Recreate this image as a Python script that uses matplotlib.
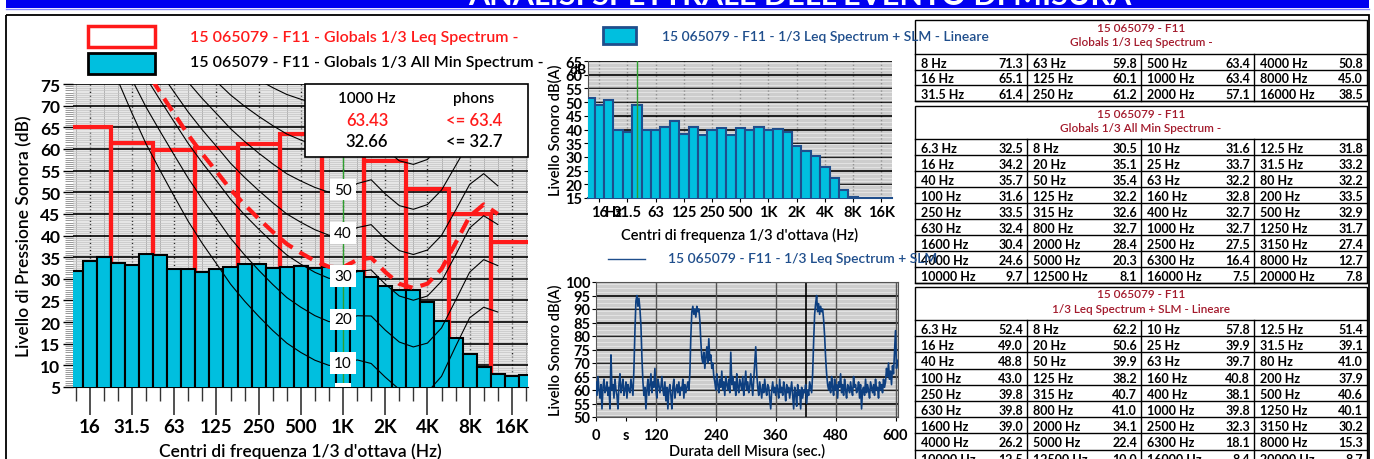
import numpy as np
import matplotlib
matplotlib.use('Agg')
import matplotlib.pyplot as plt
from matplotlib.patches import Rectangle
from matplotlib.ticker import MultipleLocator, FixedLocator

plt.rcParams['font.family'] = ['Lato', 'DejaVu Sans']

# ---------------- data ----------------
band_labels = ['6.3', '8', '10', '12.5', '16', '20', '25', '31.5', '40', '50', '63', '80',
               '100', '125', '160', '200', '250', '315', '400', '500', '630', '800', '1000',
               '1250', '1600', '2000', '2500', '3150', '4000', '5000', '6300', '8000',
               '10000', '12500', '16000', '20000']
min_spectrum = [32.5, 30.5, 31.6, 31.8, 34.2, 35.1, 33.7, 33.2, 35.7, 35.4, 32.2, 32.2,
                31.6, 32.2, 32.8, 33.5, 33.5, 32.6, 32.7, 32.9, 32.4, 32.7, 32.7, 31.7,
                30.4, 28.4, 27.5, 27.4, 24.6, 20.3, 16.4, 12.7, 9.7, 8.1, 7.5, 7.8]
leq_linear = [52.4, 62.2, 57.8, 51.4, 49.0, 50.6, 39.9, 39.1, 48.8, 39.9, 39.7, 41.0,
              43.0, 38.2, 40.8, 37.9, 39.8, 40.7, 38.1, 40.6, 39.8, 41.0, 39.8, 40.1,
              39.0, 34.1, 32.3, 30.2, 26.2, 22.4, 18.1, 15.3, 12.5, 10.0, 8.4, 8.7]
oct_labels = ['8', '16', '31.5', '63', '125', '250', '500', '1000', '2000', '4000', '8000', '16000']
leq_octave = [71.3, 65.1, 61.4, 59.8, 60.1, 61.2, 63.4, 63.4, 57.1, 50.8, 45.0, 38.5]

tick_bands = ['16', '31.5', '63', '125', '250', '500', '1000', '2000', '4000', '8000', '16000']
tick_labels = ['16', '31.5', '63', '125', '250', '500', '1K', '2K', '4K', '8K', '16K']

phon_1k_leq = 63.43
phon_1k_min = 32.66
phon_curves = [10, 20, 30, 40, 50, 60, 70, 80, 90, 100]
phon_labels = [0, 10, 20, 30, 40, 50]

# ISO 226:2003 equal-loudness parameters (20 Hz .. 12.5 kHz)
iso_af = [0.532, 0.506, 0.480, 0.455, 0.432, 0.409, 0.387, 0.367, 0.349, 0.330, 0.315,
          0.301, 0.288, 0.276, 0.267, 0.259, 0.253, 0.250, 0.246, 0.244, 0.243, 0.243,
          0.243, 0.242, 0.242, 0.245, 0.254, 0.271, 0.301]
iso_Lu = [-31.6, -27.2, -23.0, -19.1, -15.9, -13.0, -10.3, -8.1, -6.2, -4.5, -3.1, -2.0,
          -1.1, -0.4, 0.0, 0.3, 0.5, 0.0, -2.7, -4.1, -1.0, 1.7, 2.5, 1.2, -2.1, -7.1,
          -11.2, -10.7, -3.1]
iso_Tf = [78.5, 68.7, 59.5, 51.1, 44.0, 37.5, 31.5, 26.5, 22.1, 17.9, 14.4, 11.4, 8.6,
          6.2, 4.4, 3.0, 2.2, 2.4, 3.5, 1.7, -1.3, -4.2, -6.0, -5.4, -1.5, 6.0, 12.6,
          13.9, 12.3]

# time history, 2 s samples
sample_step = 2.0
level_history = [
    63, 58, 65, 60, 57, 62, 53, 61, 64, 59, 60, 63, 58, 61, 53, 73, 60, 62, 57, 64,
    60, 58, 53, 62, 66, 59, 61, 64, 58, 60, 63, 57, 62, 60, 59, 64, 61, 58,
    68, 82, 93, 95, 91, 94, 90, 84, 72, 63, 58, 61,
    53, 60, 64, 58, 62, 66, 59, 63, 61, 68, 60, 57, 64, 62, 59, 61, 65, 60, 58, 63,
    56, 61, 53, 60, 62, 58, 53, 61, 64, 57, 60, 62, 59, 63, 58, 61, 60, 64, 57, 62,
    59, 61, 63, 60,
    66, 80, 89, 91, 88, 90, 87, 91, 89, 90, 86, 78, 72, 70, 74, 68, 72, 76, 70, 79,
    71, 73, 68, 70, 65,
    63, 60, 66, 62, 59, 64, 61, 67, 60, 63, 58, 65, 62, 60, 64, 59, 74, 62, 65, 60,
    63, 58, 66, 61, 59, 64, 62, 60, 65, 58, 62, 67, 60, 63, 59, 61, 66, 62, 58, 64,
    70, 76,
    66, 61, 58, 63, 60, 57, 62, 59, 64, 60, 58, 62, 61, 57, 53, 60, 63, 59, 61, 58,
    62, 60, 57, 64, 59, 61, 58, 63, 60, 56, 62, 59, 61, 57, 60, 63, 58, 53, 61, 59,
    54, 62, 58, 60, 53, 61, 57, 60, 59, 62, 55, 60, 58, 63, 61, 59,
    66, 78, 88, 92, 95, 89, 92, 88, 91, 89, 90, 86, 80, 72, 66, 62, 60,
    63, 59, 65, 61, 58, 64, 60, 62, 57, 63, 61, 66, 59, 62, 58, 64, 60, 57, 62, 61,
    59, 63, 60, 58, 65, 61, 62, 59, 60, 63, 57, 62, 53, 60, 61, 58, 64, 59, 62, 60,
    57, 63, 61, 59, 62, 58, 64, 60, 61, 57, 63, 60, 62, 59, 64, 61,
    63, 68, 65, 70, 64, 67, 62, 69, 66, 74, 82, 68, 71]
cursor_time = 421
time_ticks = [0, 60, 120, 240, 360, 480, 600]
time_tick_labels = ['0', 's', '120', '240', '360', '480', '600']

# ---------------- helpers ----------------
W, H = 1374, 460
fig = plt.figure(figsize=(W / 100, H / 100), dpi=100)
fig.patch.set_facecolor('white')

def ax_rect(x0, y0, x1, y1):
    return [x0 / W, 1 - y1 / H, (x1 - x0) / W, (y1 - y0) / H]

CYAN = '#00bfdf'
DBLUE = '#1f4e8c'
DRED = '#a3192b'
ref = band_labels.index('1000')
band_idx = np.arange(len(band_labels)) - ref
oct_idx = np.array([band_labels.index(l) - ref for l in oct_labels])
tick_idx = [band_labels.index(l) - ref for l in tick_bands]
iso_idx = band_idx[band_labels.index('20'):band_labels.index('12500') + 1]
af = np.array(iso_af); Lu = np.array(iso_Lu); Tf = np.array(iso_Tf)

def iso226(ln):
    Af = 4.47e-3 * (10 ** (0.025 * ln) - 1.15) + (0.4 * 10 ** ((Tf + Lu) / 10 - 9)) ** af
    return 10 / af * np.log10(Af) - Lu + 94

XLIM = (-19.2, 13.15)

def style_grid(ax, facecolor='#e6e6e6'):
    ax.set_facecolor(facecolor)
    ax.set_axisbelow(True)
    ax.yaxis.set_minor_locator(MultipleLocator(0.5))
    ax.grid(which='major', axis='y', color='black', lw=1.2)
    ax.grid(which='minor', axis='y', color='#c4c4c4', lw=0.5)

# ---------------- left chart ----------------
ax1 = fig.add_axes(ax_rect(73, 85, 528, 388))
style_grid(ax1)
ax1.set_xlim(*XLIM)
ax1.set_ylim(5, 75)
ax1.set_yticks(np.arange(5, 76, 5))
ax1.xaxis.set_major_locator(FixedLocator(tick_idx))
ax1.xaxis.set_minor_locator(FixedLocator(list(band_idx)))
ax1.set_xticklabels(tick_labels)
ax1.grid(which='major', axis='x', color='#222222', lw=1.0, ls=':')
ax1.grid(which='minor', axis='x', color='#aaaaaa', lw=0.6)
ax1.tick_params(axis='x', which='major', length=20, width=1.2, color='#333333',
                labelsize=13.5, pad=2)
ax1.tick_params(axis='x', which='minor', length=10, width=1.0, color='#333333')
ax1.tick_params(axis='y', which='major', length=7, width=1, labelsize=12.5, pad=2)
ax1.tick_params(axis='y', which='minor', length=6, width=0.6, color='#888888')
for lab in ax1.get_xticklabels() + ax1.get_yticklabels():
    lab.set_fontweight('bold')
for s in ['top', 'right', 'left']:
    ax1.spines[s].set_visible(False)

for i, v in zip(oct_idx, leq_octave):
    ax1.add_patch(Rectangle((i - 1.5, 0), 3, v, fill=False, edgecolor='#ff1a1a',
                            lw=3, zorder=2))
ax1.bar(band_idx, min_spectrum, width=1, color=CYAN, edgecolor='black', lw=1.5, zorder=3)
for p in phon_curves:
    ax1.plot(iso_idx, iso226(p), color='black', lw=0.8, zorder=4)
ax1.plot(iso_idx, iso226(phon_1k_min), color='#ff1a1a', lw=3, ls=(0, (3.5, 2)), zorder=5)
ax1.axvline(0, color='#2e9e2e', lw=1.0, zorder=6)
for p in phon_labels:
    ax1.text(0, p + 0.6 if p > 0 else 3.4, str(p), ha='center', va='center', fontsize=11,
             zorder=7, clip_on=True,
             bbox=dict(boxstyle='square,pad=0.25', fc='white', ec='none'))
ax1.set_ylabel('Livello di Pressione Sonora (dB)', fontsize=12.5, fontweight='semibold',
               labelpad=6)
ax1.set_xlabel("Centri di frequenza 1/3 d'ottava (Hz)", fontsize=12.5,
               fontweight='semibold', labelpad=6)

# ---------------- middle top chart ----------------
ax2 = fig.add_axes(ax_rect(588, 62, 892, 199))
style_grid(ax2, '#e2e2e2')
ax2.set_xlim(*XLIM)
ax2.set_ylim(15, 65)
ax2.set_yticks(np.arange(15, 66, 5))
ax2.xaxis.set_major_locator(FixedLocator(tick_idx))
ax2.set_xticklabels(tick_labels)
ax2.grid(which='major', axis='x', color='#222222', lw=1.0, ls=':')
ax2.tick_params(axis='x', which='major', length=3, labelsize=10.5, pad=2)
ax2.tick_params(axis='y', which='major', length=3, labelsize=10.5, pad=1)
ax2.tick_params(axis='y', which='minor', length=0)
for lab in ax2.get_xticklabels() + ax2.get_yticklabels():
    lab.set_fontweight('bold')
for s in ['top', 'right']:
    ax2.spines[s].set_visible(False)
ax2.spines['left'].set_color('#555555')
ax2.spines['bottom'].set_color(DBLUE)
ax2.spines['bottom'].set_linewidth(1.5)
ax2.bar(band_idx, leq_linear, width=1, color=CYAN, edgecolor=DBLUE, lw=1.5, zorder=3)
ax2.axvline(band_labels.index('40') - ref, color='#2e9e2e', lw=1.0, zorder=5)
ax2.set_ylabel('Livello Sonoro dB(A)', fontsize=10.5, fontweight='semibold', labelpad=2)
ax2.set_xlabel("Centri di frequenza 1/3 d'ottava (Hz)", fontsize=10.5,
               fontweight='semibold', labelpad=6)

# ---------------- middle bottom chart ----------------
ax3 = fig.add_axes(ax_rect(596, 283, 898, 418))
style_grid(ax3, '#e2e2e2')
t = np.arange(len(level_history)) * sample_step
ax3.set_xlim(0, 605)
ax3.set_ylim(50, 100)
ax3.set_yticks(np.arange(50, 101, 5))
ax3.set_xticks(time_ticks)
ax3.set_xticklabels(time_tick_labels)
for xv in [120, 240, 360, 480, 600]:
    ax3.axvline(xv, color='#555555', lw=1.0, zorder=1)
ax3.axvline(cursor_time, color='black', lw=1.2, zorder=1)
ax3.plot(t, level_history, color='#0d3f80', lw=1.2, zorder=3)
ax3.tick_params(axis='x', length=3, labelsize=10.5, pad=5)
ax3.tick_params(axis='y', which='major', length=3, labelsize=10.5, pad=1)
ax3.tick_params(axis='y', which='minor', length=0)
for lab in ax3.get_xticklabels() + ax3.get_yticklabels():
    lab.set_fontweight('bold')
for s in ax3.spines.values():
    s.set_color('#555555')
ax3.set_ylabel('Livello Sonoro dB(A)', fontsize=10.5, fontweight='semibold', labelpad=2)
ax3.set_xlabel('Durata dell Misura (sec.)', fontsize=10.5, fontweight='semibold',
               labelpad=1)

# ---------------- overlay ----------------
ov = fig.add_axes([0, 0, 1, 1], zorder=10)
ov.set_xlim(0, W)
ov.set_ylim(H, 0)
ov.axis('off')
ov.patch.set_alpha(0)

# title bar + frame
ov.add_patch(Rectangle((6, -2), 1363, 11, fc='#0000f0', ec='none'))
ov.plot([6, 1369], [9.5, 9.5], color='#8a8aff', lw=1)
ov.text(800, 5, "ANALISI SPETTRALE DELL'EVENTO DI MISURA", color='white', fontsize=22,
        fontweight='bold', ha='center', va='baseline')
ov.add_patch(Rectangle((6, 16), 1363, 460, fill=False, ec='black', lw=1.3))

# phon box
ov.add_patch(Rectangle((305, 85), 223, 73, fc='white', ec='black', lw=1.2))
ov.text(367, 99, '1000 Hz', ha='center', va='center', fontsize=11, fontweight='semibold')
ov.text(474, 99, 'phons', ha='center', va='center', fontsize=11, fontweight='semibold')
ov.text(367, 121, f'{phon_1k_leq:.2f}', ha='center', va='center', fontsize=12,
        color='#ff1a1a', fontweight='semibold')
ov.text(474, 121, f'<= {phon_1k_leq:.1f}', ha='center', va='center', fontsize=12,
        color='#ff1a1a', fontweight='semibold')
ov.text(367, 142, f'{phon_1k_min:.2f}', ha='center', va='center', fontsize=12,
        fontweight='semibold')
ov.text(474, 142, f'<= {phon_1k_min:.1f}', ha='center', va='center', fontsize=12,
        fontweight='semibold')
ov.text(578, 70, 'dB', ha='center', va='center', fontsize=10, fontweight='bold')
ov.text(614, 213, 'Hz', ha='center', va='center', fontsize=10.5, fontweight='bold')

# tables
cols = [915, 1027, 1141, 1254, 1367]

def draw_table(top, head_bot, row_h, nrows, title, labels, values):
    bottom = head_bot + nrows * row_h
    ov.add_patch(Rectangle((cols[0], top), cols[-1] - cols[0], bottom - top,
                           fc='white', ec='black', lw=1.0, zorder=1))
    ov.plot([cols[0], cols[-1]], [head_bot, head_bot], color='black', lw=1.0, zorder=2)
    for r in range(nrows):
        y = head_bot + (r + 1) * row_h
        ov.plot([cols[0], cols[-1]], [y, y], color='black', lw=1.0, zorder=2)
    for c in cols[1:-1]:
        ov.plot([c, c], [head_bot, bottom], color='black', lw=1.0, zorder=2)
    ov.text(1141, top + 7, '15 065079 - F11', ha='center', va='center', fontsize=8.5,
            color=DRED, fontweight='semibold', zorder=3)
    ov.text(1141, top + 22, title, ha='center', va='center', fontsize=8.5,
            color=DRED, fontweight='semibold', zorder=3)
    for r in range(nrows):
        yc = head_bot + (r + 0.5) * row_h + 1
        for c in range(4):
            lab, val = labels[r][c], values[r][c]
            ov.text(cols[c] + 6, yc, lab, ha='left', va='center', fontsize=9,
                    fontweight='bold', zorder=3)
            ov.text(cols[c + 1] - 4, yc, f'{val:.1f}', ha='right', va='center',
                    fontsize=9, fontweight='bold', zorder=3)

t1_lab = [[oct_labels[c * 3 + r] + ' Hz' for c in range(4)] for r in range(3)]
t1_val = [[leq_octave[c * 3 + r] for c in range(4)] for r in range(3)]
draw_table(21, 55, 15.5, 3, 'Globals 1/3 Leq Spectrum -', t1_lab, t1_val)
t2_lab = [[band_labels[r * 4 + c] + ' Hz' for c in range(4)] for r in range(9)]
t2_val = [[min_spectrum[r * 4 + c] for c in range(4)] for r in range(9)]
draw_table(107, 140, 16, 9, 'Globals 1/3 All Min Spectrum -', t2_lab, t2_val)
t3_val = [[leq_linear[r * 4 + c] for c in range(4)] for r in range(9)]
draw_table(288, 321, 16.2, 9, '1/3 Leq Spectrum + SLM - Lineare', t2_lab, t3_val)

# legends
ov.add_patch(Rectangle((88, 27), 67, 21, fc='white', ec='#ff1a1a', lw=2.5, zorder=4))
ov.add_patch(Rectangle((88, 54), 67, 21, fc=CYAN, ec='black', lw=2, zorder=4))
ov.text(190, 38, '15 065079 - F11 - Globals 1/3 Leq Spectrum -', ha='left', va='center',
        fontsize=11.5, color='#ff1a1a', fontweight='semibold', zorder=5)
ov.text(190, 63, '15 065079 - F11 - Globals 1/3 All Min Spectrum -', ha='left',
        va='center', fontsize=11.5, color='black', fontweight='semibold', zorder=5)
ov.add_patch(Rectangle((603, 28), 33, 17, fc=CYAN, ec=DBLUE, lw=2, zorder=4))
ov.text(662, 37, '15 065079 - F11 - 1/3 Leq Spectrum + SLM - Lineare', ha='left',
        va='center', fontsize=10, color=DBLUE, fontweight='semibold', zorder=5)
ov.plot([608, 645], [260, 260], color=DBLUE, lw=1, zorder=5)
ov.text(668, 259, '15 065079 - F11 - 1/3 Leq Spectrum + SLM', ha='left',
        va='center', fontsize=10, color=DBLUE, fontweight='semibold', zorder=5)

fig.savefig('out.png', dpi=100)
